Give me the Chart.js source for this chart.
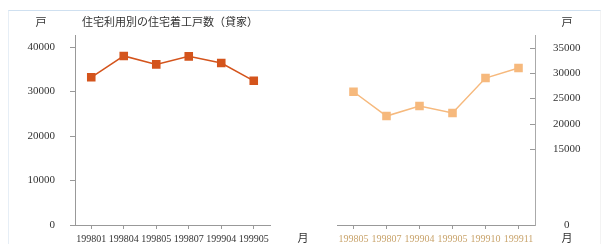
<!DOCTYPE html>
<html>
<head>
<meta charset="utf-8">
<script src="https://cdn.jsdelivr.net/npm/chart.js@4"></script>
<style>
  body { margin: 0; background: #fff; }
  #wrap { position: relative; width: 605px; height: 244px; overflow: hidden; }
  #frame { position: absolute; left: 8px; top: 10px; right: 4px; bottom: -2px;
           border-top: 1px solid #cfe0f0; border-left: 1px solid #e6eef6; border-right: 1px solid #f3f3f3; }
  #left { position: absolute; left: 0; top: 0; }
  #right { position: absolute; left: 320px; top: 0; }
</style>
</head>
<body>
<div id="wrap">
  <div id="frame"></div>
  <canvas id="left" width="320" height="244" style="width:320px;height:244px"></canvas>
  <canvas id="right" width="285" height="244" style="width:285px;height:244px"></canvas>
</div>
<script>
// data
const leftMonths = ["199801", "199804", "199805", "199807", "199904", "199905"];
const leftValues = [33200, 38000, 36100, 37900, 36400, 32400];
const rightMonths = ["199805", "199807", "199904", "199905", "199910", "199911"];
const rightValues = [26300, 21500, 23500, 22100, 29000, 31000];
const leftTicks = [0, 10000, 20000, 30000, 40000];
const rightTicks = [0, 15000, 20000, 25000, 30000, 35000];

const title = "住宅利用別の住宅着工戸数（貸家）";
const unitY = "戸";
const unitX = "月";

const serif = "'Liberation Serif', 'DejaVu Serif', serif";
const cjk = "'Noto Sans CJK JP', sans-serif";
const axisGray = "#999";

Chart.defaults.animation = false;
Chart.defaults.responsive = false;

// texts around the left chart
const leftText = {
  id: "leftText",
  afterDraw(chart) {
    const ctx = chart.ctx;
    const area = chart.chartArea;
    const y = chart.scales.y;
    const x = chart.scales.x;
    ctx.save();
    ctx.fillStyle = "#333";
    ctx.textBaseline = "middle";
    ctx.font = "11px " + cjk;
    ctx.textAlign = "center";
    ctx.fillText(unitY, y.right - 34, area.top - 13);
    ctx.textAlign = "left";
    ctx.fillText(title, area.left + 7, area.top - 13);
    ctx.textAlign = "center";
    ctx.fillText(unitX, x.right + 33, x.top + 13);
    ctx.restore();
  }
};

// inner ticks and units on the right axis
const rightText = {
  id: "rightText",
  afterDraw(chart) {
    const ctx = chart.ctx;
    const area = chart.chartArea;
    const y = chart.scales.y;
    const x = chart.scales.x;
    ctx.save();
    ctx.strokeStyle = axisGray;
    ctx.lineWidth = 1;
    y.ticks.forEach((t) => {
      if (t.value === 0) return;
      const py = Math.round(y.getPixelForValue(t.value)) + 0.5;
      ctx.beginPath();
      ctx.moveTo(y.left - 5, py);
      ctx.lineTo(y.left, py);
      ctx.stroke();
    });
    ctx.fillStyle = "#333";
    ctx.textBaseline = "middle";
    ctx.textAlign = "center";
    ctx.font = "11px " + cjk;
    ctx.fillText(unitY, y.left + 32, area.top - 13);
    ctx.fillText(unitX, y.left + 32, x.top + 13);
    ctx.restore();
  }
};

const plain = (v) => String(v);
// fixed axis width, without the label overhang padding
const fixWidth = (w) => (s) => { s.width = w; s.paddingTop = 0; s.paddingBottom = 0; };

new Chart(document.getElementById("left"), {
  type: "line",
  data: {
    labels: leftMonths,
    datasets: [{
      data: leftValues,
      borderColor: "#d4541c",
      backgroundColor: "#d4541c",
      borderWidth: 1.5,
      pointStyle: "rect",
      pointRadius: 5,
      pointHoverRadius: 5,
    }],
  },
  options: {
    layout: { padding: { top: 35, right: 50, left: 0, bottom: 0 } },
    plugins: { legend: { display: false }, tooltip: { enabled: false } },
    scales: {
      x: {
        offset: true,
        grid: { offset: false, drawOnChartArea: false, tickLength: 4, color: axisGray },
        border: { color: axisGray },
        ticks: { color: "#333", font: { family: serif, size: 10 }, padding: 4, maxRotation: 0, autoSkip: false },
        afterFit: (s) => { s.height = 19; },
      },
      y: {
        min: 0,
        max: 42700,
        afterBuildTicks: (s) => { s.ticks = leftTicks.map((v) => ({ value: v })); },
        grid: { drawOnChartArea: false, tickLength: 5, color: axisGray },
        border: { color: axisGray },
        ticks: { color: "#333", font: { family: serif, size: 11 }, padding: 15, callback: plain },
        afterFit: fixWidth(75),
      },
    },
  },
  plugins: [leftText],
});

new Chart(document.getElementById("right"), {
  type: "line",
  data: {
    labels: rightMonths,
    datasets: [{
      data: rightValues,
      borderColor: "#f6b97d",
      backgroundColor: "#f6b97d",
      borderWidth: 1.5,
      pointStyle: "rect",
      pointRadius: 5,
      pointHoverRadius: 5,
    }],
  },
  options: {
    layout: { padding: { top: 35, right: 0, left: 17, bottom: 0 } },
    plugins: { legend: { display: false }, tooltip: { enabled: false } },
    scales: {
      x: {
        offset: true,
        grid: { offset: false, drawOnChartArea: false, tickLength: 4, color: axisGray },
        border: { color: axisGray },
        ticks: { color: "#c9a46c", font: { family: serif, size: 10 }, padding: 4, maxRotation: 0, autoSkip: false },
        afterFit: (s) => { s.height = 19; },
      },
      y: {
        position: "right",
        min: 0,
        max: 37500,
        afterBuildTicks: (s) => { s.ticks = rightTicks.map((v) => ({ value: v })); },
        grid: { drawOnChartArea: false, drawTicks: false },
        border: { color: "#aaa" },
        ticks: { color: "#333", font: { family: serif, size: 11 }, padding: 18, crossAlign: "center", callback: plain },
        afterFit: fixWidth(70),
      },
    },
  },
  plugins: [rightText],
});
</script>
</body>
</html>
